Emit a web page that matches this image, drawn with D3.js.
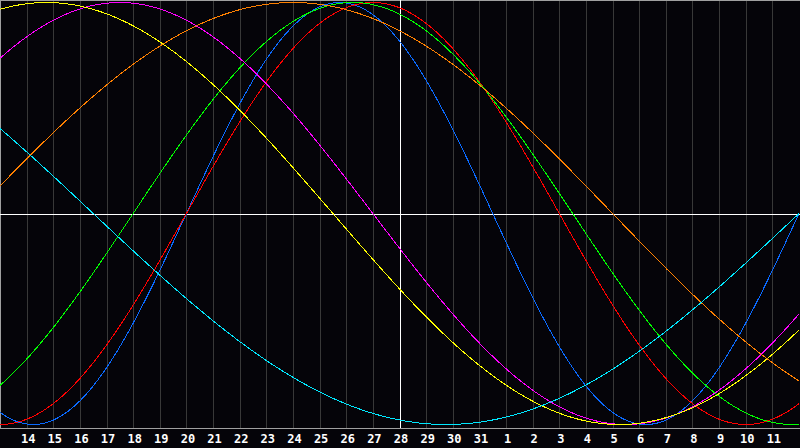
<!DOCTYPE html>
<html>
<head>
<meta charset="utf-8">
<script src="https://cdn.jsdelivr.net/npm/d3@7"></script>
<style>
html,body{margin:0;padding:0;background:#050409;}
svg{display:block;}
</style>
</head>
<body>
<script>
// Biorhythm cycles
const cycleNames = ["Physical","Emotional","Intellectual","Intuitive","Aesthetic","Awareness","Spiritual"];
const cyclePeriods = [23, 28, 33, 38, 43, 48, 53];
const cycleColors = ["#0a6aff","#ff0000","#00ff00","#ff00ff","#ffff00","#ff8000","#00e8ff"];
// days elapsed since birth at the left edge of the chart
const daysSinceBirthAtStart = 45073;
// day-of-month labels on grid lines (offset 1..29 from left edge)
const dayLabels = ["14","15","16","17","18","19","20","21","22","23","24","25","26","27","28","29","30","31","1","2","3","4","5","6","7","8","9","10","11"];
const spanDays = 30;
const todayOffset = 15; // "28"

const W = 800, H = 448;
const svg = d3.select("body").append("svg").attr("width", W).attr("height", H);
svg.append("rect").attr("width", W).attr("height", H).attr("fill", "#050409");

const x = d3.scaleLinear().domain([0, spanDays]).range([0, 799]);
const y = d3.scaleLinear().domain([-1, 1]).range([424.5, 2.5]);
const plotBottom = 428;

// vertical grid
const gridOffsets = d3.range(1, dayLabels.length + 1);
svg.append("g").selectAll("line").data(gridOffsets).join("line")
  .attr("x1", d => Math.round(x(d)) + 0.5).attr("x2", d => Math.round(x(d)) + 0.5)
  .attr("y1", 0).attr("y2", plotBottom)
  .attr("stroke", "#383838").attr("stroke-width", 1);

// borders
svg.append("line").attr("x1", 0).attr("x2", W).attr("y1", 0.5).attr("y2", 0.5).attr("stroke", "#a0a0a0");
svg.append("line").attr("x1", 0.5).attr("x2", 0.5).attr("y1", 0).attr("y2", plotBottom).attr("stroke", "#a0a0a0");

// today line & zero line
svg.append("line").attr("x1", Math.round(x(todayOffset)) + 0.5).attr("x2", Math.round(x(todayOffset)) + 0.5)
  .attr("y1", 0).attr("y2", plotBottom).attr("stroke", "#ffffff");
svg.append("line").attr("x1", 0).attr("x2", W).attr("y1", 214.5).attr("y2", 214.5).attr("stroke", "#ffffff");

// curves
const samples = d3.range(0, spanDays + 0.0001, 0.05);
const line = d3.line().x(d => x(d[0])).y(d => y(d[1]));
cyclePeriods.forEach((p, i) => {
  const pts = samples.map(t => [t, Math.sin(2 * Math.PI * (daysSinceBirthAtStart + t) / p)]);
  svg.append("path").datum(pts)
    .attr("d", line)
    .attr("fill", "none")
    .attr("stroke", cycleColors[i])
    .attr("stroke-width", 1)
    .attr("shape-rendering", "crispEdges")
    .attr("class", "cycle-" + cycleNames[i]);
});

// bottom axis
const axisG = svg.append("g").attr("transform", `translate(0,${plotBottom})`)
  .call(d3.axisBottom(x).tickValues(gridOffsets).tickFormat((d, i) => dayLabels[i]).tickSize(0).tickPadding(6));
axisG.select(".domain").attr("stroke", "#a0a0a0").attr("d", `M0,0.5H${W}`);
axisG.selectAll("text")
  .attr("fill", "#ffffff")
  .attr("font-family", "'DejaVu Sans Mono', monospace")
  .attr("font-weight", "bold")
  .attr("font-size", 12)
  .attr("dx", 1);
</script>
</body>
</html>
